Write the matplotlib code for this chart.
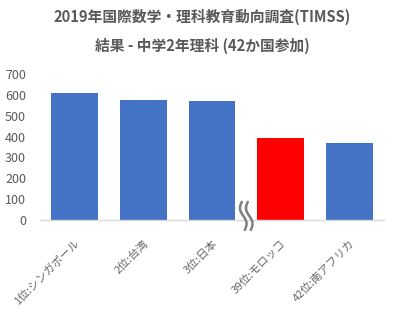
import matplotlib.pyplot as plt
import numpy as np
from matplotlib.transforms import IdentityTransform

plt.rcParams['font.family'] = ['Noto Sans CJK JP', 'DejaVu Sans']

# TIMSS 2019, grade 8 science
countries = ['1位:シンガポール', '2位:台湾', '3位:日本', '39位:モロッコ', '42位:南アフリカ']
scores = [608, 574, 570, 394, 370]
colors = ['#4472C4', '#4472C4', '#4472C4', '#FF0000', '#4472C4']
yticks = [0, 100, 200, 300, 400, 500, 600, 700]

grey = '#595959'
dpi = 100
fig = plt.figure(figsize=(4.04, 3.22), dpi=dpi)
ax = fig.add_axes([0.099, 0.317, 0.851, 0.453])

x = np.arange(len(countries))
ax.bar(x, scores, width=0.68, color=colors, zorder=2)

ax.set_xlim(-0.5, len(countries) - 0.5)
ax.set_ylim(0, 700)
ax.set_yticks(yticks)
ax.set_xticks(x)
ax.set_xticklabels(countries, rotation=45, ha='right', rotation_mode='anchor',
                   fontsize=8, color='#666666')
ax.tick_params(axis='y', length=0, pad=10, labelsize=9, labelcolor=grey)
ax.tick_params(axis='x', length=0, pad=13)
for s in ['top', 'right', 'left']:
    ax.spines[s].set_visible(False)
ax.spines['bottom'].set_color('#D9D9D9')
ax.spines['bottom'].set_linewidth(1)

fig.text(0.5, 0.948, '2019年国際数学・理科教育動向調査(TIMSS)', ha='center', va='center',
         fontsize=10.6, fontweight='bold', color=grey)
fig.text(0.5, 0.857, '結果 - 中学2年理科 (42か国参加)', ha='center', va='center',
         fontsize=10.6, fontweight='bold', color=grey)

# break mark between 3rd and 4th bar
bx, by = ax.transData.transform((2.5, 0))
t = np.linspace(0, 1, 40)
for off in (-3, 3):
    xs = bx + off + 2.5 * np.sin(t * 2 * np.pi) - 3 * (t - 0.5)
    ys = by - 10 + 28 * t
    ax.plot(xs, ys, transform=IdentityTransform(), color='#7F7F7F', lw=1.8,
            clip_on=False, zorder=5, solid_capstyle='round')

fig.savefig('out.png', dpi=dpi)
